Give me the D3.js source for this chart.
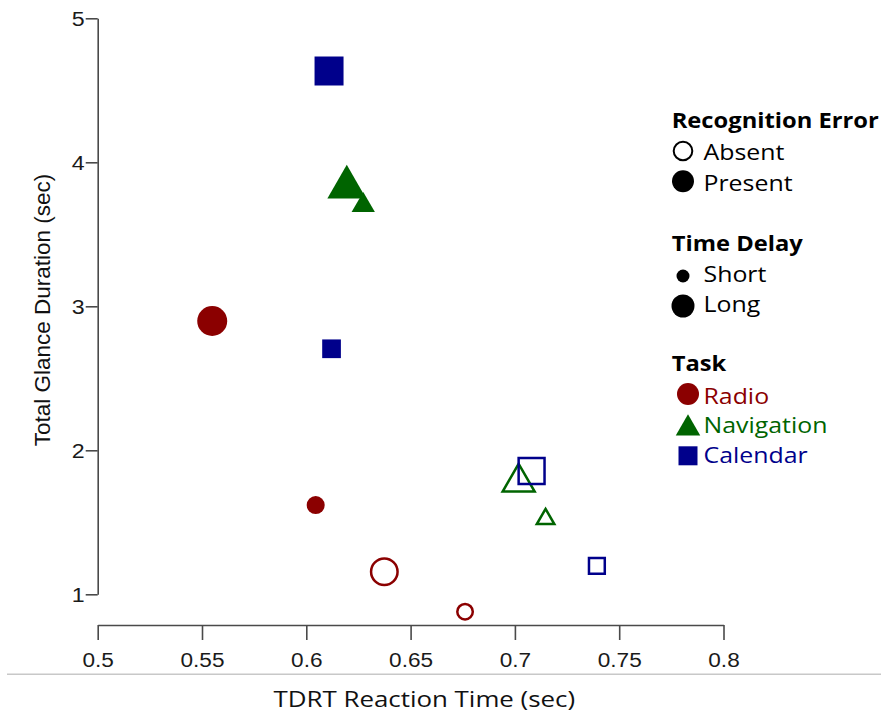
<!DOCTYPE html>
<html><head><meta charset="utf-8">
<script src="https://cdn.jsdelivr.net/npm/d3@7"></script>
<style>body{margin:0;background:#fff}</style></head>
<body><svg id="c" width="881" height="717"></svg>
<script>
// ---------------- data ----------------
const tasks = ["Radio", "Navigation", "Calendar"];
const taskColors = ["#8b0000", "#006400", "#00008b"];
const pointTask  = ["Calendar","Navigation","Navigation","Radio","Calendar","Radio","Radio","Radio","Navigation","Calendar","Navigation","Calendar"];
const pointError = ["Present","Present","Present","Present","Present","Present","Absent","Absent","Absent","Absent","Absent","Absent"];
const pointDelay = ["Long","Long","Short","Long","Short","Short","Long","Short","Long","Long","Short","Short"];
const reactionTime   = [0.6109, 0.6194, 0.6273, 0.5549, 0.6121, 0.6045, 0.6374, 0.6761, 0.7018, 0.7080, 0.7147, 0.7393];
const glanceDuration = [4.634, 3.827, 3.701, 2.898, 2.705, 1.620, 1.157, 0.879, 1.778, 1.856, 1.523, 1.198];
const xTickValues = [0.5, 0.55, 0.6, 0.65, 0.7, 0.75, 0.8];
const xTickLabels = ["0.5", "0.55", "0.6", "0.65", "0.7", "0.75", "0.8"];
const yTickValues = [1, 2, 3, 4, 5];
const yTickLabels = ["1", "2", "3", "4", "5"];
const errorLevels = ["Absent", "Present"];
const delayLevels = ["Short", "Long"];

// ---------------- style ----------------
const SX = 1.13;              // horizontal text stretch of the original
const STROKE = 2.5;
const AX = "#4a4a4a";
const symbolOf = {Radio: d3.symbolCircle, Navigation: d3.symbolTriangle, Calendar: d3.symbolSquare};
// linear dimension (diameter / side / triangle width) of each marker
const dimOf = {
  Radio:      {Present: {Long: 30,   Short: 18},   Absent: {Long: 26.5, Short: 15.5}},
  Navigation: {Present: {Long: 38.8, Short: 23.3}, Absent: {Long: 32,   Short: 17.5}},
  Calendar:   {Present: {Long: 29,   Short: 18.7}, Absent: {Long: 25.9, Short: 15.8}}
};
function areaOf(task, dim) {
  if (task === "Radio") return Math.PI * dim * dim / 4;
  if (task === "Calendar") return dim * dim;
  return Math.sqrt(3) / 4 * dim * dim;
}
function stretch(sel) {
  sel.each(function () {
    const w = this.getComputedTextLength();
    this.setAttribute("textLength", w * SX);
    this.setAttribute("lengthAdjust", "spacingAndGlyphs");
  });
}
const colorOf = d3.scaleOrdinal().domain(tasks).range(taskColors);

const svg = d3.select("#c");
const x = d3.scaleLinear().domain([0.5, 0.8]).range([97.7, 723.5]);
const y = d3.scaleLinear().domain([1, 5]).range([594.3, 18.3]);

// gray separator line
svg.append("line").attr("x1", 7).attr("x2", 881).attr("y1", 674.3).attr("y2", 674.3)
  .attr("stroke", "#c8c8c8").attr("stroke-width", 1.5);

// x axis
const gx = svg.append("g").attr("transform", "translate(0,625)")
  .call(d3.axisBottom(x).tickValues(xTickValues)
    .tickFormat((d, i) => xTickLabels[i]).tickSize(15).tickPadding(13).tickSizeOuter(0));
gx.select(".domain").attr("stroke", AX).attr("stroke-width", 1.6);
gx.selectAll(".tick line").attr("stroke", AX).attr("stroke-width", 1.6);
gx.selectAll(".tick text").attr("font-family", "'Liberation Sans', Arial, sans-serif")
  .attr("font-size", 20).attr("fill", "#1a1a1a").call(stretch);

// y axis
const gy = svg.append("g").attr("transform", "translate(97.7,0)")
  .call(d3.axisLeft(y).tickValues(yTickValues)
    .tickFormat((d, i) => yTickLabels[i]).tickSize(12).tickPadding(1).tickSizeOuter(0));
gy.select(".domain").attr("stroke", AX).attr("stroke-width", 1.6);
gy.selectAll(".tick line").attr("stroke", AX).attr("stroke-width", 1.6);
gy.selectAll(".tick text").attr("font-family", "'Liberation Sans', Arial, sans-serif")
  .attr("font-size", 20.5).attr("fill", "#1a1a1a").attr("dy", "0.36em").call(stretch);

// axis titles
svg.append("text").attr("x", 424.3).attr("y", 707.3).attr("text-anchor", "middle")
  .attr("font-family", "'Open Sans', sans-serif").attr("font-size", 22.5).attr("fill", "#111")
  .attr("textLength", 301.7).attr("lengthAdjust", "spacingAndGlyphs")
  .text("TDRT Reaction Time (sec)");
svg.append("text").attr("transform", "translate(49.5,310) rotate(-90)").attr("text-anchor", "middle")
  .attr("font-family", "'Liberation Sans', Arial, sans-serif").attr("font-size", 22.5).attr("fill", "#111")
  .text("Total Glance Duration (sec)");

// points
const idx = d3.range(reactionTime.length);
svg.append("g").selectAll("path").data(idx).join("path")
  .attr("transform", i => `translate(${x(reactionTime[i])},${y(glanceDuration[i])})`)
  .attr("d", i => {
    const t = pointTask[i];
    const dim = dimOf[t][pointError[i]][pointDelay[i]];
    return d3.symbol().type(symbolOf[t]).size(areaOf(t, dim))();
  })
  .attr("fill", i => pointError[i] === "Present" ? colorOf(pointTask[i]) : "none")
  .attr("stroke", i => pointError[i] === "Present" ? "none" : colorOf(pointTask[i]))
  .attr("stroke-width", STROKE);

// legend
const LF = "'Open Sans', sans-serif";
const leg = svg.append("g");
function heading(txt, yy) {
  leg.append("text").attr("x", 671.7).attr("y", yy).attr("font-family", LF).attr("font-weight", "bold")
    .attr("font-size", 21).attr("fill", "#000").text(txt).call(stretch);
}
function item(txt, yy, color) {
  leg.append("text").attr("x", 703.5).attr("y", yy).attr("font-family", LF)
    .attr("font-size", 22).attr("fill", color).text(txt).call(stretch);
}
heading("Recognition Error", 128.3);
errorLevels.forEach((e, k) => {
  const cy = [151, 181.3][k];
  leg.append("circle").attr("cx", 683).attr("cy", cy).attr("r", e === "Absent" ? 9.3 : 11)
    .attr("fill", e === "Absent" ? "none" : "#000").attr("stroke", e === "Absent" ? "#000" : "none")
    .attr("stroke-width", 2);
  item(e, [160, 190.5][k], "#000");
});
heading("Time Delay", 250.7);
delayLevels.forEach((d, k) => {
  const cy = [276, 306][k];
  leg.append("circle").attr("cx", 683).attr("cy", cy).attr("r", d === "Short" ? 6.5 : 11.5).attr("fill", "#000");
  item(d, [281.7, 311.7][k], "#000");
});
heading("Task", 370.7);
tasks.forEach((t, k) => {
  const cy = [394, 428.5, 455.8][k];
  const dim = {Radio: 22, Navigation: 24.5, Calendar: 19}[t];
  leg.append("path").attr("transform", `translate(688,${cy})`)
    .attr("d", d3.symbol().type(symbolOf[t]).size(areaOf(t, dim))())
    .attr("fill", colorOf(t));
  item(t, [404, 433.3, 463.3][k], colorOf(t));
});
</script></body></html>
